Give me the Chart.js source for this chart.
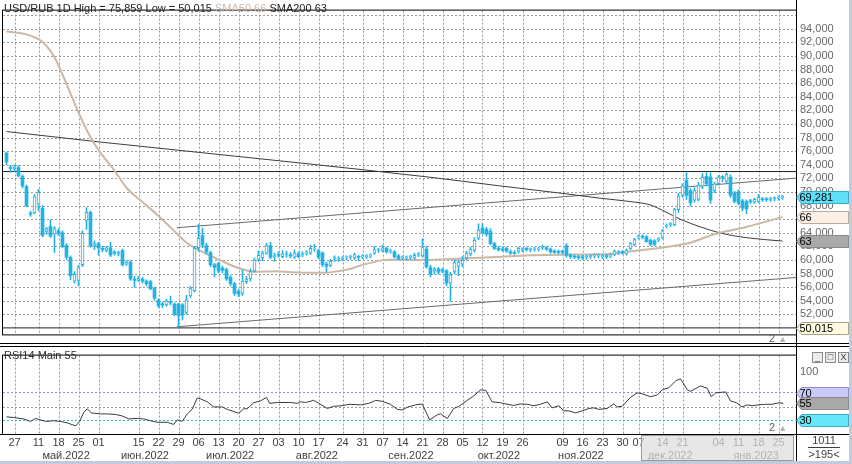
<!DOCTYPE html>
<html>
<head>
<meta charset="utf-8">
<script src="https://cdn.jsdelivr.net/npm/chart.js@4.4.1/dist/chart.umd.min.js"></script>
<style>
html,body{margin:0;padding:0;background:#fff;}
#wrap{position:relative;width:852px;height:464px;overflow:hidden;background:#fff;font-family:"Liberation Sans",Arial,sans-serif;font-size:11px;}
#wrap canvas{position:absolute;left:0;}
.lbl{position:absolute;white-space:nowrap;line-height:13px;font-size:11px;}
.btn{position:absolute;top:352px;width:9px;height:9px;border:1px solid #8a8a8a;background:#ececec;font-size:9px;line-height:9px;text-align:center;color:#404040;}
</style>
</head>
<body>
<div id="wrap">
  <canvas id="main" width="852" height="345" style="top:0"></canvas>
  <canvas id="rsi" width="852" height="119" style="top:345px"></canvas>
  <div class="lbl" id="title" style="left:4px;top:2px;color:#1e1e1e"></div>
  <div class="lbl" id="rsiTitle" style="left:4px;top:349px;color:#303030"></div>
  <div class="lbl" style="left:769px;top:332px;color:#606060">2 <span style="color:#b4b4b4;font-size:9px">&#9650;</span></div>
  <div class="lbl" style="left:769px;top:421px;color:#606060">2 <span style="color:#b4b4b4;font-size:9px">&#9650;</span></div>
  <div class="btn" style="left:812px">_</div>
  <div class="btn" style="left:825px">&#9633;</div>
  <div class="btn" style="left:838px">X</div>
  <div class="lbl" style="left:806px;top:434px;width:36px;text-align:center;color:#404040">1011</div>
  <div style="position:absolute;left:808px;top:447px;width:32px;height:1px;background:#404040"></div>
  <div class="lbl" style="left:806px;top:448px;width:36px;text-align:center;color:#404040">&gt;195&lt;</div>
  <div style="position:absolute;left:0;top:461px;width:852px;height:3px;background:#c3cbd8"></div>
  <div style="position:absolute;left:849px;top:0;width:3px;height:464px;background:#c3cbd8"></div>
</div>
<script>
// ---------------- DATA ----------------
// daily candles (bar index 0 = 25 Apr 2022 ... 194 = 27 Jan 2023)
const O = [75.70,73.60,73.40,73.60,72.30,70.80,66.90,66.90,68.20,67.60,
64.20,64.90,63.80,64.30,64.00,62.10,60.40,56.90,57.00,59.30,
65.80,67.00,62.10,62.40,61.70,61.40,61.80,61.10,60.90,61.40,
59.40,59.70,57.10,57.00,57.20,56.90,56.80,55.80,54.10,53.50,
53.40,53.80,53.50,53.50,53.40,52.30,54.70,55.50,61.80,63.60,
62.10,61.10,59.30,59.50,58.80,58.60,57.50,56.50,55.40,55.10,
56.80,57.20,58.40,60.10,60.30,61.00,62.10,60.50,60.80,60.50,
60.80,60.70,60.40,60.90,60.80,61.00,61.00,61.60,61.40,61.00,
59.40,59.20,60.20,60.10,60.20,60.30,60.40,60.30,60.50,60.45,
60.50,60.60,61.00,61.40,61.40,61.70,61.30,61.20,60.60,60.30,
60.30,60.40,60.30,60.80,60.60,61.60,58.90,58.40,58.70,58.50,
58.40,56.60,58.30,59.10,59.40,60.30,60.90,61.40,63.20,64.70,
64.50,64.20,62.40,61.70,61.60,61.70,61.20,61.10,61.30,61.50,
61.70,61.50,61.60,61.60,61.80,61.80,61.60,61.30,61.20,61.20,
62.10,60.60,60.50,60.40,60.35,60.40,60.50,60.60,60.60,60.50,
60.55,60.60,60.80,61.10,61.10,60.90,61.70,62.30,63.40,63.40,
63.40,62.90,62.80,63.00,63.30,65.00,65.20,65.20,67.40,69.50,
71.70,70.20,68.80,68.90,70.80,72.30,72.20,70.20,71.20,72.20,
71.60,72.20,69.80,70.00,68.70,68.60,68.60,68.50,68.60,68.90,
68.90,68.90,69.00,69.10,69.20];
const H = [75.859,73.90,74.00,73.90,72.50,71.00,67.20,69.60,70.40,68.00,
64.80,65.90,64.90,64.60,64.30,62.40,60.60,58.30,59.20,64.30,
67.70,67.20,62.80,62.60,62.00,62.00,62.60,61.40,61.30,61.60,
59.90,59.90,57.60,57.60,57.50,57.10,57.00,56.00,54.30,53.80,
54.20,54.70,53.70,53.60,53.60,54.80,56.10,62.00,65.20,64.70,
62.50,61.30,59.50,59.70,59.10,58.80,57.70,56.70,55.70,58.50,
57.60,58.70,60.30,61.30,61.30,62.50,62.60,61.00,61.20,61.40,
61.30,61.10,61.50,61.20,61.20,61.40,62.20,62.30,61.60,61.20,
59.70,60.10,60.60,60.50,60.50,60.60,60.70,61.00,60.70,60.80,
60.80,60.90,62.00,61.70,62.20,61.90,61.60,61.40,60.80,60.60,
60.60,60.70,61.00,61.10,63.10,62.00,59.20,58.90,58.90,58.80,
58.60,58.20,60.00,60.00,60.50,61.30,61.90,63.30,65.30,65.30,
64.80,64.60,62.60,62.00,61.90,61.90,61.50,61.40,61.90,61.80,
61.90,61.80,61.90,61.90,62.20,62.00,61.80,61.50,61.50,61.50,
62.40,60.90,60.80,60.70,60.70,60.70,60.80,60.90,60.90,60.80,
60.80,60.90,61.50,61.40,61.40,61.60,62.60,63.20,63.70,63.70,
63.60,63.10,63.00,63.30,64.50,65.30,65.50,67.60,69.80,71.20,
72.80,70.50,70.60,71.40,72.70,72.80,72.80,71.40,72.40,72.40,
72.80,72.50,70.10,70.30,68.90,68.80,68.90,69.10,69.60,69.20,
69.20,69.20,69.30,69.40,69.50];
const L = [74.00,72.90,73.00,72.20,70.60,67.80,66.40,66.80,67.30,63.40,
63.80,63.30,61.10,63.60,61.80,60.10,57.10,56.60,56.20,59.00,
64.50,61.90,61.50,60.70,61.20,61.20,60.50,60.70,60.60,59.10,
59.20,57.00,56.00,56.80,56.60,56.20,55.60,54.10,53.00,53.00,
53.20,53.40,51.80,50.015,51.20,52.00,54.50,55.30,61.30,61.80,
60.90,59.00,57.50,58.10,58.10,57.00,56.20,54.80,54.60,54.80,
56.50,56.90,58.20,59.80,59.90,60.80,60.20,59.80,60.40,60.30,
60.40,60.30,60.20,60.30,60.50,60.70,60.80,61.30,60.20,59.00,
58.20,59.00,59.80,59.80,59.90,60.00,60.10,60.10,59.90,60.20,
60.20,60.30,60.80,61.10,61.20,61.00,61.00,60.30,60.00,60.00,
60.00,60.10,60.10,60.50,60.40,58.80,57.50,57.90,57.90,58.10,
56.20,53.90,58.00,57.70,59.00,60.00,60.60,61.20,63.00,63.80,
63.50,62.20,61.50,61.30,61.30,61.10,60.80,60.80,61.00,61.20,
61.30,61.20,61.30,61.30,61.50,61.40,61.00,61.00,60.90,60.90,
60.40,60.20,60.20,60.10,60.10,60.10,60.20,60.30,60.30,60.20,
60.20,60.30,60.60,60.80,60.80,60.70,61.50,62.10,63.10,63.10,
62.60,62.10,62.10,62.70,63.10,64.70,64.90,65.00,67.00,69.20,
68.90,67.90,68.50,68.70,70.50,70.90,68.30,69.90,71.00,71.50,
71.30,69.20,68.40,68.10,67.20,66.80,68.30,68.30,68.40,68.60,
68.60,68.60,68.70,68.80,68.90];
const C = [74.40,73.45,73.70,72.40,70.90,68.00,66.75,69.30,69.90,63.60,
64.60,63.50,64.60,63.90,62.00,60.40,57.70,57.90,58.90,63.90,
67.00,62.10,62.40,61.80,61.50,61.80,60.70,61.00,61.10,59.30,
59.60,57.20,57.00,57.30,56.90,56.50,55.80,54.40,53.30,53.40,
54.00,53.70,52.00,51.90,51.90,54.10,55.80,61.70,63.20,62.20,
61.20,59.30,58.90,58.40,58.50,57.20,56.50,55.10,55.00,56.90,
57.20,58.30,60.00,60.70,61.00,62.10,60.40,60.60,60.70,60.90,
60.85,60.60,61.00,60.50,60.90,61.05,61.70,61.65,60.40,59.30,
59.10,59.80,60.30,60.15,60.25,60.35,60.45,60.80,60.40,60.50,
60.55,60.65,61.50,61.45,61.80,61.20,61.35,60.50,60.20,60.35,
60.30,60.45,60.70,60.85,61.90,59.00,57.90,58.70,58.20,58.40,
56.60,57.80,59.60,59.70,60.00,61.00,61.60,62.90,64.40,64.00,
63.80,62.40,61.70,61.50,61.45,61.30,61.00,60.95,61.70,61.55,
61.50,61.55,61.70,61.65,61.85,61.60,61.20,61.10,61.10,61.15,
60.70,60.50,60.40,60.35,60.30,60.45,60.55,60.65,60.60,60.55,
60.50,60.65,61.30,61.15,61.05,61.40,62.40,63.00,63.45,63.35,
62.70,62.30,62.30,63.05,64.30,65.05,65.25,67.40,69.40,70.90,
69.50,68.40,70.20,71.00,72.20,71.20,68.80,71.20,72.20,72.15,
72.60,69.50,68.60,68.40,67.60,67.50,68.55,68.90,69.20,68.85,
68.85,68.95,69.05,69.15,69.281];

// SMA 50 / SMA 200 (bar index, value)
const sma50Pos = [0,5,8,10,12,14,16,18,20,22,24,27,30,33.4,37.6,41.6,45.1,48.4,54.2,58.4,62.1,67.6,70.9,79.1,85.1,89.1,94.1,97.5,104.1,108.4,114.1,122.5,130.9,139.1,147.6,152.6,157.6,164.1,170.9,176.6,185.1,194];
const sma50Val = [93.58,93.16,92.46,91.48,89.80,87.28,84.48,81.68,79.16,77.06,75.38,73.14,70.62,68.80,66.70,64.46,62.50,61.38,59.74,58.72,58.26,58.34,58.20,58.12,58.58,59.28,59.98,60.08,59.98,60.08,60.22,60.44,60.68,60.78,60.82,61.00,61.38,61.84,62.54,63.72,64.88,66.30];
const sma200Pos = [0,23.4,48.4,73.4,105.9,122.7,139.1,148.4,155.9,160.9,164.6,168.4,173.4,178.4,185.1,194];
const sma200Val = [78.88,77.34,75.80,74.26,72.16,70.94,69.78,69.08,68.59,68.10,67.12,66.00,64.88,63.97,63.27,62.78];

// trend / level lines (bar index, value)
const levelHigh = 73.0;
const channelUpper = [[42.6, 64.74], [197.4, 72.03]];
const channelLower = [[42.6, 50.18], [197.4, 57.43]];

// RSI(14)
const rsiPos = [0,1.8,4.3,6,7.3,8.5,9.8,11.8,13.5,15.2,17.3,18.3,19.3,20.2,21.2,23.5,25.2,27.3,28.9,30.6,32.7,34.3,36,37.7,40.2,41.8,42.7,43.9,45.2,46.4,47.7,48.5,50.2,51.8,53.9,55.2,56.8,58.1,59.3,60.2,61.8,63.5,65,65.8,67.7,71,72.7,73.5,74.8,76.8,78.1,80.2,81.8,83.9,85.6,88.5,90.6,92.3,93.9,96,97.7,98.9,100.2,102.3,103.9,105.8,107.7,108.5,110.2,111.8,113.1,115.2,116.8,118.5,119.8,121.4,123.5,124.8,126.8,128.5,130.2,131.8,133.5,135.2,136.4,138.1,139.3,140.6,142.3,143.9,145.6,146.8,148.1,150.2,151.8,152.7,153.9,156,157.7,158.9,161,162.7,163.9,165.6,167.3,168.5,170.2,171,173.5,175.2,176.2,177.3,179.8,181,182.5,183.9,185.2,186.4,188.1,189.8,191.4,193.1,194.2];
const rsiVal = [35.2,34.3,32.2,28.7,33,30.9,28.7,29.6,28.7,26.5,22.3,28.7,41.6,46.8,40.8,39.4,39.4,38.6,36.5,32.2,33,32.2,29.6,27.4,27.4,24.4,30.9,28.7,39.4,45.9,62.3,61,56.7,49.4,49.4,45.9,42.9,40.3,46.8,46.8,55.4,58,63.1,54.5,55.8,55.8,54.5,56.7,55.8,58.8,54.5,47.2,50.3,51.1,53.2,52.4,54.5,58.8,57.5,53.2,45.9,45,49,52.4,53.7,30.9,38.1,39.4,33,47.2,50.3,58.8,65.2,73.9,73,56.7,55.4,53.7,51.5,53.7,53.2,51.1,53.2,56.7,48.1,51.1,43.8,43.8,40.8,43.8,47.2,48.1,45.9,47.2,53.7,49.4,50.3,63.1,69.6,68.3,64,66.6,73.9,76.9,86.8,89.8,73.9,71.7,79.5,76.1,64,69.6,70.9,58,55.4,49.4,52.4,51.1,52.4,53.2,53.2,55.4,54.5];
const rsiLevels = [70, 30];

// axis ticks
const priceTicks = [52,54,56,58,60,62,64,66,68,70,72,74,76,78,80,82,84,86,88,90,92,94,96];
const rsiTicks = [30, 50, 70, 100];
const rsiGrid = [50];
const dayTickPos  = [2,8,13,18,23,33,38,43,48,53,58,63,68,73,78,84,89,94,99,104,109,114,119,124,129,139,144,149,154,158,164,169,178,183,188,193];
const dayTickText = ['27','11','18','25','01','15','22','29','06','13','20','27','03','10','17','24','31','07','14','21','28','05','12','19','26','09','16','23','30','07','14','21','04','11','18','25'];
const monthTickPos  = [14.9,34.6,55.9,77.6,101.1,123.1,143.6,165.9,187.4];
const monthTickText = ['май.2022','июн.2022','июл.2022','авг.2022','сен.2022','окт.2022','ноя.2022','дек.2022','янв.2023'];
const shiftStart = 158.6; // start of the grey shift area on the time axis

// ---------------- HELPERS ----------------
const FONT = '"Liberation Sans", Arial, sans-serif';
const CANDLE = '#22b2e4';
const GRID = '#9c9c9c';
const X_MIN = -0.875, X_MAX = 197.375;
const fmt3 = v => v.toFixed(3).replace('.', ',');
const pts = (xs, ys) => xs.map((x, i) => ({x, y: ys[i]}));
const last = a => a[a.length - 1];
const hi = Math.max(...H), lo = Math.min(...L);

document.getElementById('title').innerHTML =
  'USD/RUB 1D High = ' + fmt3(hi) + ' Low = ' + fmt3(lo) +
  ' <span style="color:#cdb9a9">SMA50 ' + Math.round(last(sma50Val)) + '</span> SMA200 ' + Math.round(last(sma200Val));
document.getElementById('rsiTitle').textContent = 'RSI14 Main ' + Math.round(last(rsiVal));

function drawMarker(ctx, y, text, bg, bd) {
  y = Math.round(y) + 0.5;
  const x0 = 796.5, x1 = 848.5;
  ctx.beginPath();
  ctx.moveTo(x0, y);
  ctx.lineTo(x0 + 5, y - 6);
  ctx.lineTo(x1, y - 6);
  ctx.lineTo(x1, y + 6);
  ctx.lineTo(x0 + 5, y + 6);
  ctx.closePath();
  ctx.fillStyle = bg; ctx.fill();
  ctx.strokeStyle = bd; ctx.lineWidth = 1; ctx.stroke();
  ctx.fillStyle = '#000';
  ctx.font = '11px ' + FONT;
  ctx.textBaseline = 'middle'; ctx.textAlign = 'left';
  ctx.fillText(text, x0 + 3, y + 0.5);
}

// dotted grid drawn from the scales' ticks
const gridPlugin = {
  id: 'dotgrid',
  beforeDatasetsDraw(chart, args, opts) {
    const {ctx, chartArea: a, scales} = chart;
    ctx.save();
    ctx.strokeStyle = GRID; ctx.lineWidth = 1; ctx.setLineDash([2, 2]);
    scales.x.ticks.forEach(t => {
      const x = Math.round(scales.x.getPixelForValue(t.value)) + 0.5;
      ctx.beginPath(); ctx.moveTo(x, a.top); ctx.lineTo(x, a.bottom); ctx.stroke();
    });
    (opts.yValues || []).forEach(v => {
      const y = Math.round(scales.y.getPixelForValue(v)) + 0.5;
      ctx.beginPath(); ctx.moveTo(a.left, y); ctx.lineTo(a.right, y); ctx.stroke();
    });
    ctx.restore();
  }
};

const decoPlugin = {
  id: 'deco',
  afterDraw(chart, args, opts) {
    const {ctx, chartArea: a} = chart;
    ctx.save();
    if (opts.shiftBox) {
      const xs = Math.round(chart.scales.x.getPixelForValue(shiftStart)) + 0.5;
      ctx.fillStyle = 'rgba(222,222,222,0.72)';
      ctx.fillRect(xs, a.bottom + 1, 793.5 - xs, 25);
      ctx.strokeStyle = '#9a9a9a'; ctx.lineWidth = 1;
      ctx.strokeRect(xs, a.bottom + 1.5, 793.5 - xs, 25);
    }
    ctx.strokeStyle = '#000'; ctx.lineWidth = 1;
    ctx.strokeRect(a.left - 0.5, a.top - 0.5, a.right - a.left + 1, a.bottom - a.top + 1);
    (opts.hlines || []).forEach(y => {
      ctx.beginPath(); ctx.moveTo(0, y + 0.5); ctx.lineTo(849, y + 0.5); ctx.stroke();
    });
    ctx.beginPath(); ctx.moveTo(a.right + 0.5, 0); ctx.lineTo(a.right + 0.5, opts.vEnd || chart.height); ctx.stroke();
    const ys = chart.scales.y;
    (opts.markers || []).forEach(m => drawMarker(ctx, ys.getPixelForValue(m.v), m.text, m.bg, m.bd));
    ctx.restore();
  }
};

const xCommon = {
  type: 'linear', min: X_MIN, max: X_MAX, offset: false,
  afterBuildTicks: s => { s.ticks = dayTickPos.map(v => ({value: v})); },
  grid: {display: false, drawTicks: false},
  border: {display: false}
};

// ---------------- MAIN PRICE CHART ----------------
new Chart(document.getElementById('main'), {
  type: 'line',
  data: {
    datasets: [
      {type: 'bar', label: 'body', order: 0, grouped: false, barThickness: 3, minBarLength: 1,
       data: O.map((o, i) => ({x: i, y: [Math.min(o, C[i]), Math.max(o, C[i])]})),
       backgroundColor: c => C[c.dataIndex] >= O[c.dataIndex] ? '#ffffff' : CANDLE,
       borderColor: CANDLE,
       borderWidth: c => C[c.dataIndex] >= O[c.dataIndex] ? 1 : 0,
       borderSkipped: false},
      {type: 'bar', label: 'wick', order: 1, grouped: false, barThickness: 1,
       data: O.map((o, i) => ({x: i, y: [L[i], H[i]]})),
       backgroundColor: CANDLE, borderWidth: 0},
      {label: 'SMA50', order: 2, data: pts(sma50Pos, sma50Val), borderColor: '#cbb8a5', borderWidth: 2, pointRadius: 0, cubicInterpolationMode: 'monotone'},
      {label: 'SMA200', order: 3, data: pts(sma200Pos, sma200Val), borderColor: '#3c3c3c', borderWidth: 1, pointRadius: 0, cubicInterpolationMode: 'monotone'},
      {label: 'high line', order: 4, data: [{x: X_MIN, y: levelHigh}, {x: X_MAX, y: levelHigh}], borderColor: '#202020', borderWidth: 1, pointRadius: 0},
      {label: 'low line', order: 4, data: [{x: X_MIN, y: lo}, {x: X_MAX, y: lo}], borderColor: '#202020', borderWidth: 1, pointRadius: 0},
      {label: 'channel up', order: 5, data: channelUpper.map(p => ({x: p[0], y: p[1]})), borderColor: '#6a6a6a', borderWidth: 1, pointRadius: 0},
      {label: 'channel low', order: 5, data: channelLower.map(p => ({x: p[0], y: p[1]})), borderColor: '#6a6a6a', borderWidth: 1, pointRadius: 0}
    ]
  },
  options: {
    responsive: false, animation: false, events: [],
    layout: {padding: {left: 3, top: 3, right: 0, bottom: 2}},
    plugins: {
      legend: {display: false}, tooltip: {enabled: false},
      dotgrid: {yValues: priceTicks},
      deco: {
        hlines: [343],
        markers: [
          {v: last(C), text: fmt3(last(C)), bg: '#60e0f8', bd: '#3aa8c8'},
          {v: last(sma50Val), text: String(Math.round(last(sma50Val))), bg: '#fbefe6', bd: '#bba898'},
          {v: last(sma200Val), text: String(Math.round(last(sma200Val))), bg: '#a9a9a9', bd: '#8a8a8a'},
          {v: lo, text: fmt3(lo), bg: '#fffbe2', bd: '#a8a488'}
        ]
      }
    },
    scales: {
      x: Object.assign({}, xCommon, {ticks: {display: false}, afterFit: s => { s.height = 0; }}),
      y: {
        type: 'linear', position: 'right', min: 49.06, max: 96.66,
        afterBuildTicks: s => { s.ticks = priceTicks.map(v => ({value: v})); },
        afterFit: s => { s.width = 56; },
        ticks: {autoSkip: false, padding: 4, color: '#686868', font: {family: FONT, size: 11},
                callback: v => v >= 96 ? '' : v.toFixed(3).replace('.', ',')},
        grid: {display: false, drawTicks: false},
        border: {display: false}
      }
    }
  },
  plugins: [gridPlugin, decoPlugin]
});

// ---------------- RSI CHART + TIME AXIS ----------------
new Chart(document.getElementById('rsi'), {
  type: 'line',
  data: {
    datasets: [
      {label: 'RSI14', data: pts(rsiPos, rsiVal), borderColor: '#3a3a3a', borderWidth: 1, pointRadius: 0, tension: 0},
      {label: 'L70', data: [{x: X_MIN, y: rsiLevels[0]}, {x: X_MAX, y: rsiLevels[0]}], borderColor: '#8e8ed2', borderDash: [2, 2], borderWidth: 1, pointRadius: 0},
      {label: 'L30', data: [{x: X_MIN, y: rsiLevels[1]}, {x: X_MAX, y: rsiLevels[1]}], borderColor: '#2fc0c8', borderDash: [2, 2], borderWidth: 1, pointRadius: 0}
    ]
  },
  options: {
    responsive: false, animation: false, events: [],
    layout: {padding: {left: 3, top: 2, right: 0, bottom: 3}},
    plugins: {
      legend: {display: false}, tooltip: {enabled: false},
      dotgrid: {yValues: rsiGrid},
      deco: {
        hlines: [1, 89], vEnd: 116, shiftBox: true,
        markers: [
          {v: 70, text: '70', bg: '#cacaf8', bd: '#9090c8'},
          {v: last(rsiVal), text: String(Math.round(last(rsiVal))), bg: '#a9a9a9', bd: '#8a8a8a'},
          {v: 30, text: '30', bg: '#66e6f8', bd: '#38b0c8'}
        ]
      }
    },
    scales: {
      x: Object.assign({}, xCommon, {
        position: 'bottom', weight: 0,
        ticks: {autoSkip: false, maxRotation: 0, minRotation: 0, padding: 2, color: '#404040', font: {family: FONT, size: 11},
                callback: (v, i) => dayTickText[i]},
        afterFit: s => { s.height = 14; }
      }),
      xm: {
        type: 'linear', min: X_MIN, max: X_MAX, position: 'bottom', weight: 1, offset: false,
        afterBuildTicks: s => { s.ticks = monthTickPos.map(v => ({value: v})); },
        ticks: {autoSkip: false, maxRotation: 0, minRotation: 0, padding: 1, color: '#404040', font: {family: FONT, size: 11},
                callback: (v, i) => monthTickText[i]},
        grid: {display: false, drawTicks: false},
        border: {display: false},
        afterFit: s => { s.height = 13; }
      },
      y: {
        type: 'linear', position: 'right', min: 10.65, max: 122.9,
        afterBuildTicks: s => { s.ticks = rsiTicks.map(v => ({value: v})); },
        afterFit: s => { s.width = 56; },
        ticks: {autoSkip: false, padding: 4, color: '#686868', font: {family: FONT, size: 11}},
        grid: {display: false, drawTicks: false},
        border: {display: false}
      }
    }
  },
  plugins: [gridPlugin, decoPlugin]
});
</script>
</body>
</html>
